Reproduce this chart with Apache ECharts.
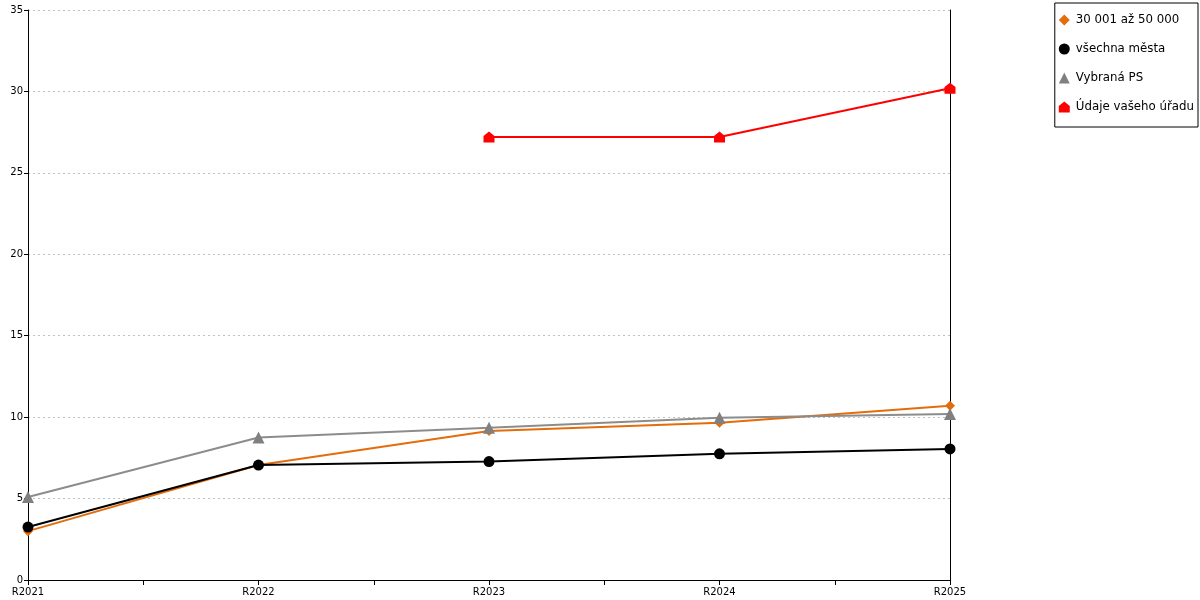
<!DOCTYPE html>
<html><head><meta charset="utf-8">
<script src="https://cdn.jsdelivr.net/npm/echarts@6/dist/echarts.min.js"></script>
<style>html,body{margin:0;padding:0;background:#fff}#c{width:1200px;height:600px}</style>
</head><body><div id="c"></div>
<script>
const categories = ['R2021','R2022','R2023','R2024','R2025'];
const yTicks = [0,5,10,15,20,25,30,35];
const seriesNames = ['30 001 až 50 000','všechna města','Vybraná PS','Údaje vašeho úřadu'];
const valsOrange = [3.0, 7.06, 9.15, 9.65, 10.7];
const valsBlack  = [3.25, 7.06, 7.27, 7.75, 8.05];
const valsGray   = [5.1, 8.75, 9.35, 9.97, 10.2];
const valsRed    = [null, null, 27.2, 27.2, 30.2];

const house = 'path://M5,0 L10,4 L10,10 L0,10 L0,4 Z';
const toPts = arr => arr.map((v,i)=> v==null ? null : [i, v]).filter(p=>p);
const font = 'DejaVu Sans';

const chart = echarts.init(document.getElementById('c'), null, {renderer:'canvas'});
chart.setOption({
  animation:false,
  textStyle:{fontFamily:font},
  grid:{left:28,right:250,top:10,bottom:20,containLabel:false},
  legend:{
    orient:'vertical', right:2, top:3,
    borderColor:'#000', borderWidth:1,
    padding:[11,4,14,4],
    itemGap:17, itemWidth:11, itemHeight:11,
    textStyle:{fontFamily:font,fontSize:11.8,color:'#000',padding:[0,0,0,1]},
    data:[
      {name:seriesNames[0],icon:'diamond'},
      {name:seriesNames[1],icon:'circle'},
      {name:seriesNames[2],icon:'triangle'},
      {name:seriesNames[3],icon:house}
    ]
  },
  xAxis:{
    type:'value', min:0, max:categories.length-1, interval:0.5,
    axisLine:{show:true,lineStyle:{color:'#000',width:1}},
    axisTick:{show:true,length:5,lineStyle:{color:'#000'}},
    splitLine:{show:false},
    axisLabel:{
      fontFamily:font,fontSize:10,color:'#000',margin:7,
      formatter:v=> Number.isInteger(v) ? categories[v] : ''
    }
  },
  yAxis:[{
    type:'value', min:yTicks[0], max:yTicks[yTicks.length-1], interval:5,
    axisLine:{show:true,lineStyle:{color:'#000',width:1}},
    axisTick:{show:true,length:4,lineStyle:{color:'#000'}},
    axisLabel:{fontFamily:font,fontSize:10,color:'#000',margin:5},
    splitLine:{show:true,lineStyle:{color:'#c0c0c0',type:[2,3],width:1}}
  },{
    type:'value', position:'right', min:0, max:35, interval:5,
    axisLine:{show:true,lineStyle:{color:'#000',width:1}},
    axisTick:{show:false}, axisLabel:{show:false}, splitLine:{show:false}
  }],
  series:[
    {name:seriesNames[0],type:'line',data:toPts(valsOrange),symbol:'diamond',symbolSize:10,
     itemStyle:{color:'#E46C0A'},lineStyle:{color:'#E46C0A',width:2}},
    {name:seriesNames[1],type:'line',data:toPts(valsBlack),symbol:'circle',symbolSize:11,
     itemStyle:{color:'#000'},lineStyle:{color:'#000',width:2}},
    {name:seriesNames[2],type:'line',data:toPts(valsGray),symbol:'triangle',symbolSize:12,
     itemStyle:{color:'#808080'},lineStyle:{color:'#8c8c8c',width:2}},
    {name:seriesNames[3],type:'line',data:toPts(valsRed),symbol:house,symbolSize:11,
     itemStyle:{color:'#FF0000'},lineStyle:{color:'#FF0000',width:2}}
  ]
});
</script></body></html>
